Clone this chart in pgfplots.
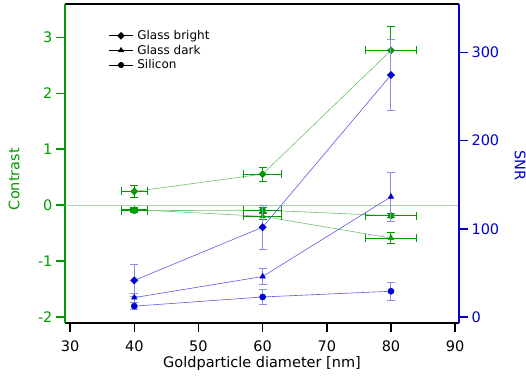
\documentclass[border=0pt]{standalone}
\usepackage{fontspec}
\setmainfont{DejaVu Sans}
\usepackage{pgfplots}
\pgfplotsset{compat=1.18}
\definecolor{cgreen}{RGB}{0,155,0}
\definecolor{lgreen}{RGB}{110,195,110}
\definecolor{zgreen}{RGB}{170,215,170}
\definecolor{cblue}{RGB}{0,0,210}
\definecolor{lblue}{RGB}{90,90,235}
\definecolor{eblue}{RGB}{140,140,235}

\pgfplotstableread{
x y ex ey
40 0.245 2 0.10
60 0.555 3 0.125
80 2.77 4 0.43
}\gbright
\pgfplotstableread{
x y ex ey
40 -0.08 2 0.04
60 -0.20 3 0.05
80 -0.59 4 0.095
}\gdark
\pgfplotstableread{
x y ex ey
40 -0.10 2 0.04
60 -0.09 3 0.05
80 -0.19 4 0.04
}\gsilicon
\pgfplotstableread{
x y ey
40 41.5 18
60 101.8 25
80 274.3 40
}\bbright
\pgfplotstableread{
x y ey
40 22 5
60 45.9 9
80 136.2 28
}\bdark
\pgfplotstableread{
x y ey
40 12.3 4
60 22.7 8
80 29.2 10
}\bsilicon

\begin{document}
\begin{tikzpicture}
\pgfplotsset{
  base/.style={
    scale only axis, width=394pt, height=319pt,
    xmin=29.2, xmax=90.6,
    tick align=outside, major tick length=9pt,
    tick label style={font=\fontsize{14.5}{16}\selectfont},
    label style={font=\fontsize{14.5}{16}\selectfont},
    /pgf/number format/assume math mode=true,
    every tick/.style={line width=1.6pt},
  },
  gstyle/.style={lgreen, line width=0.6pt,
    error bars/x dir=both, error bars/x explicit, error bars/y dir=both, error bars/y explicit,
    error bars/error bar style={cgreen, line width=1pt},
    error bars/error mark options={rotate=90, cgreen, line width=1pt, mark size=4pt}},
  bstyle/.style={lblue, line width=0.6pt,
    error bars/y dir=both, error bars/y explicit,
    error bars/error bar style={eblue, line width=1pt},
    error bars/error mark options={rotate=90, eblue, line width=1pt, mark size=4pt}},
}
\begin{axis}[base, name=ax,
  axis x line*=box, axis y line*=left,
  ymin=-2.11, ymax=3.6,
  xtick={30,40,...,90}, xtick pos=left,
  ytick={-2,-1,0,1,2,3},
  x axis line style={line width=1.6pt, black, -},
  y axis line style={line width=1.6pt, cgreen, -},
  xtick style={black, line width=1.6pt},
  ytick style={cgreen, line width=1.6pt},
  yticklabel style={cgreen},
  xticklabel style={yshift=-5pt},
  xlabel={Goldparticle diameter [nm]},
  xlabel style={at={(rel axis cs:0.5,-0.1254)}, anchor=center},
  ylabel={Contrast},
  ylabel style={cgreen, at={(rel axis cs:-0.1294,0.451)}, anchor=center},
  legend style={at={(rel axis cs:0.108,0.927)}, anchor=north west, draw=none, fill=none,
    font=\fontsize{12}{13}\selectfont, row sep=0pt, inner sep=1pt,
    nodes={inner xsep=4pt}},
  legend cell align=left,
  legend image code/.code={\draw[mark repeat=2,mark phase=2,#1] plot coordinates {(0pt,0pt) (12pt,0pt) (24pt,0pt)};},
]
\addplot[zgreen, line width=0.5pt, forget plot] coordinates {(29.2,0) (90.6,0)};
\addplot[gstyle, mark=square*, mark size=2.5pt, mark options={rotate=45, cgreen, fill=cgreen, solid}, forget plot]
  table[x=x, y=y, x error=ex, y error=ey] {\gbright};
\addplot[gstyle, mark=triangle*, mark size=3.2pt, mark options={cgreen, fill=cgreen, solid}, forget plot]
  table[x=x, y=y, x error=ex, y error=ey] {\gdark};
\addplot[gstyle, mark=*, mark size=3pt, mark options={cgreen, fill=cgreen, solid}, forget plot]
  table[x=x, y=y, x error=ex, y error=ey] {\gsilicon};
\addlegendimage{black, line width=0.6pt, mark=square*, mark size=2.4pt, mark options={rotate=45}}
\addlegendentry{Glass bright}
\addlegendimage{black, line width=0.6pt, mark=triangle*, mark size=3pt}
\addlegendentry{Glass dark}
\addlegendimage{black, line width=0.6pt, mark=*, mark size=2.7pt}
\addlegendentry{Silicon}
\end{axis}
\begin{axis}[base,
  axis x line=none, axis y line*=right,
  ymin=-6.8, ymax=354.8,
  ytick={0,100,200,300},
  y axis line style={line width=1.6pt, cblue, -},
  ytick style={cblue, line width=1.6pt},
  yticklabel style={cblue},
  ylabel={SNR},
  ylabel style={cblue, at={(rel axis cs:1.155,0.495)}, anchor=center, rotate=180},
]
\addplot[bstyle, mark=square*, mark size=2.5pt, mark options={rotate=45, cblue, fill=cblue, solid}]
  table[x=x, y=y, y error=ey] {\bbright};
\addplot[bstyle, mark=triangle*, mark size=3.2pt, mark options={cblue, fill=cblue, solid}]
  table[x=x, y=y, y error=ey] {\bdark};
\addplot[bstyle, mark=*, mark size=3pt, mark options={cblue, fill=cblue, solid}]
  table[x=x, y=y, y error=ey] {\bsilicon};
\end{axis}
\pgfresetboundingbox
\path ([xshift=-65pt,yshift=-55pt]ax.south west) rectangle ([xshift=67pt,yshift=4pt]ax.north east);
\end{tikzpicture}
\end{document}
